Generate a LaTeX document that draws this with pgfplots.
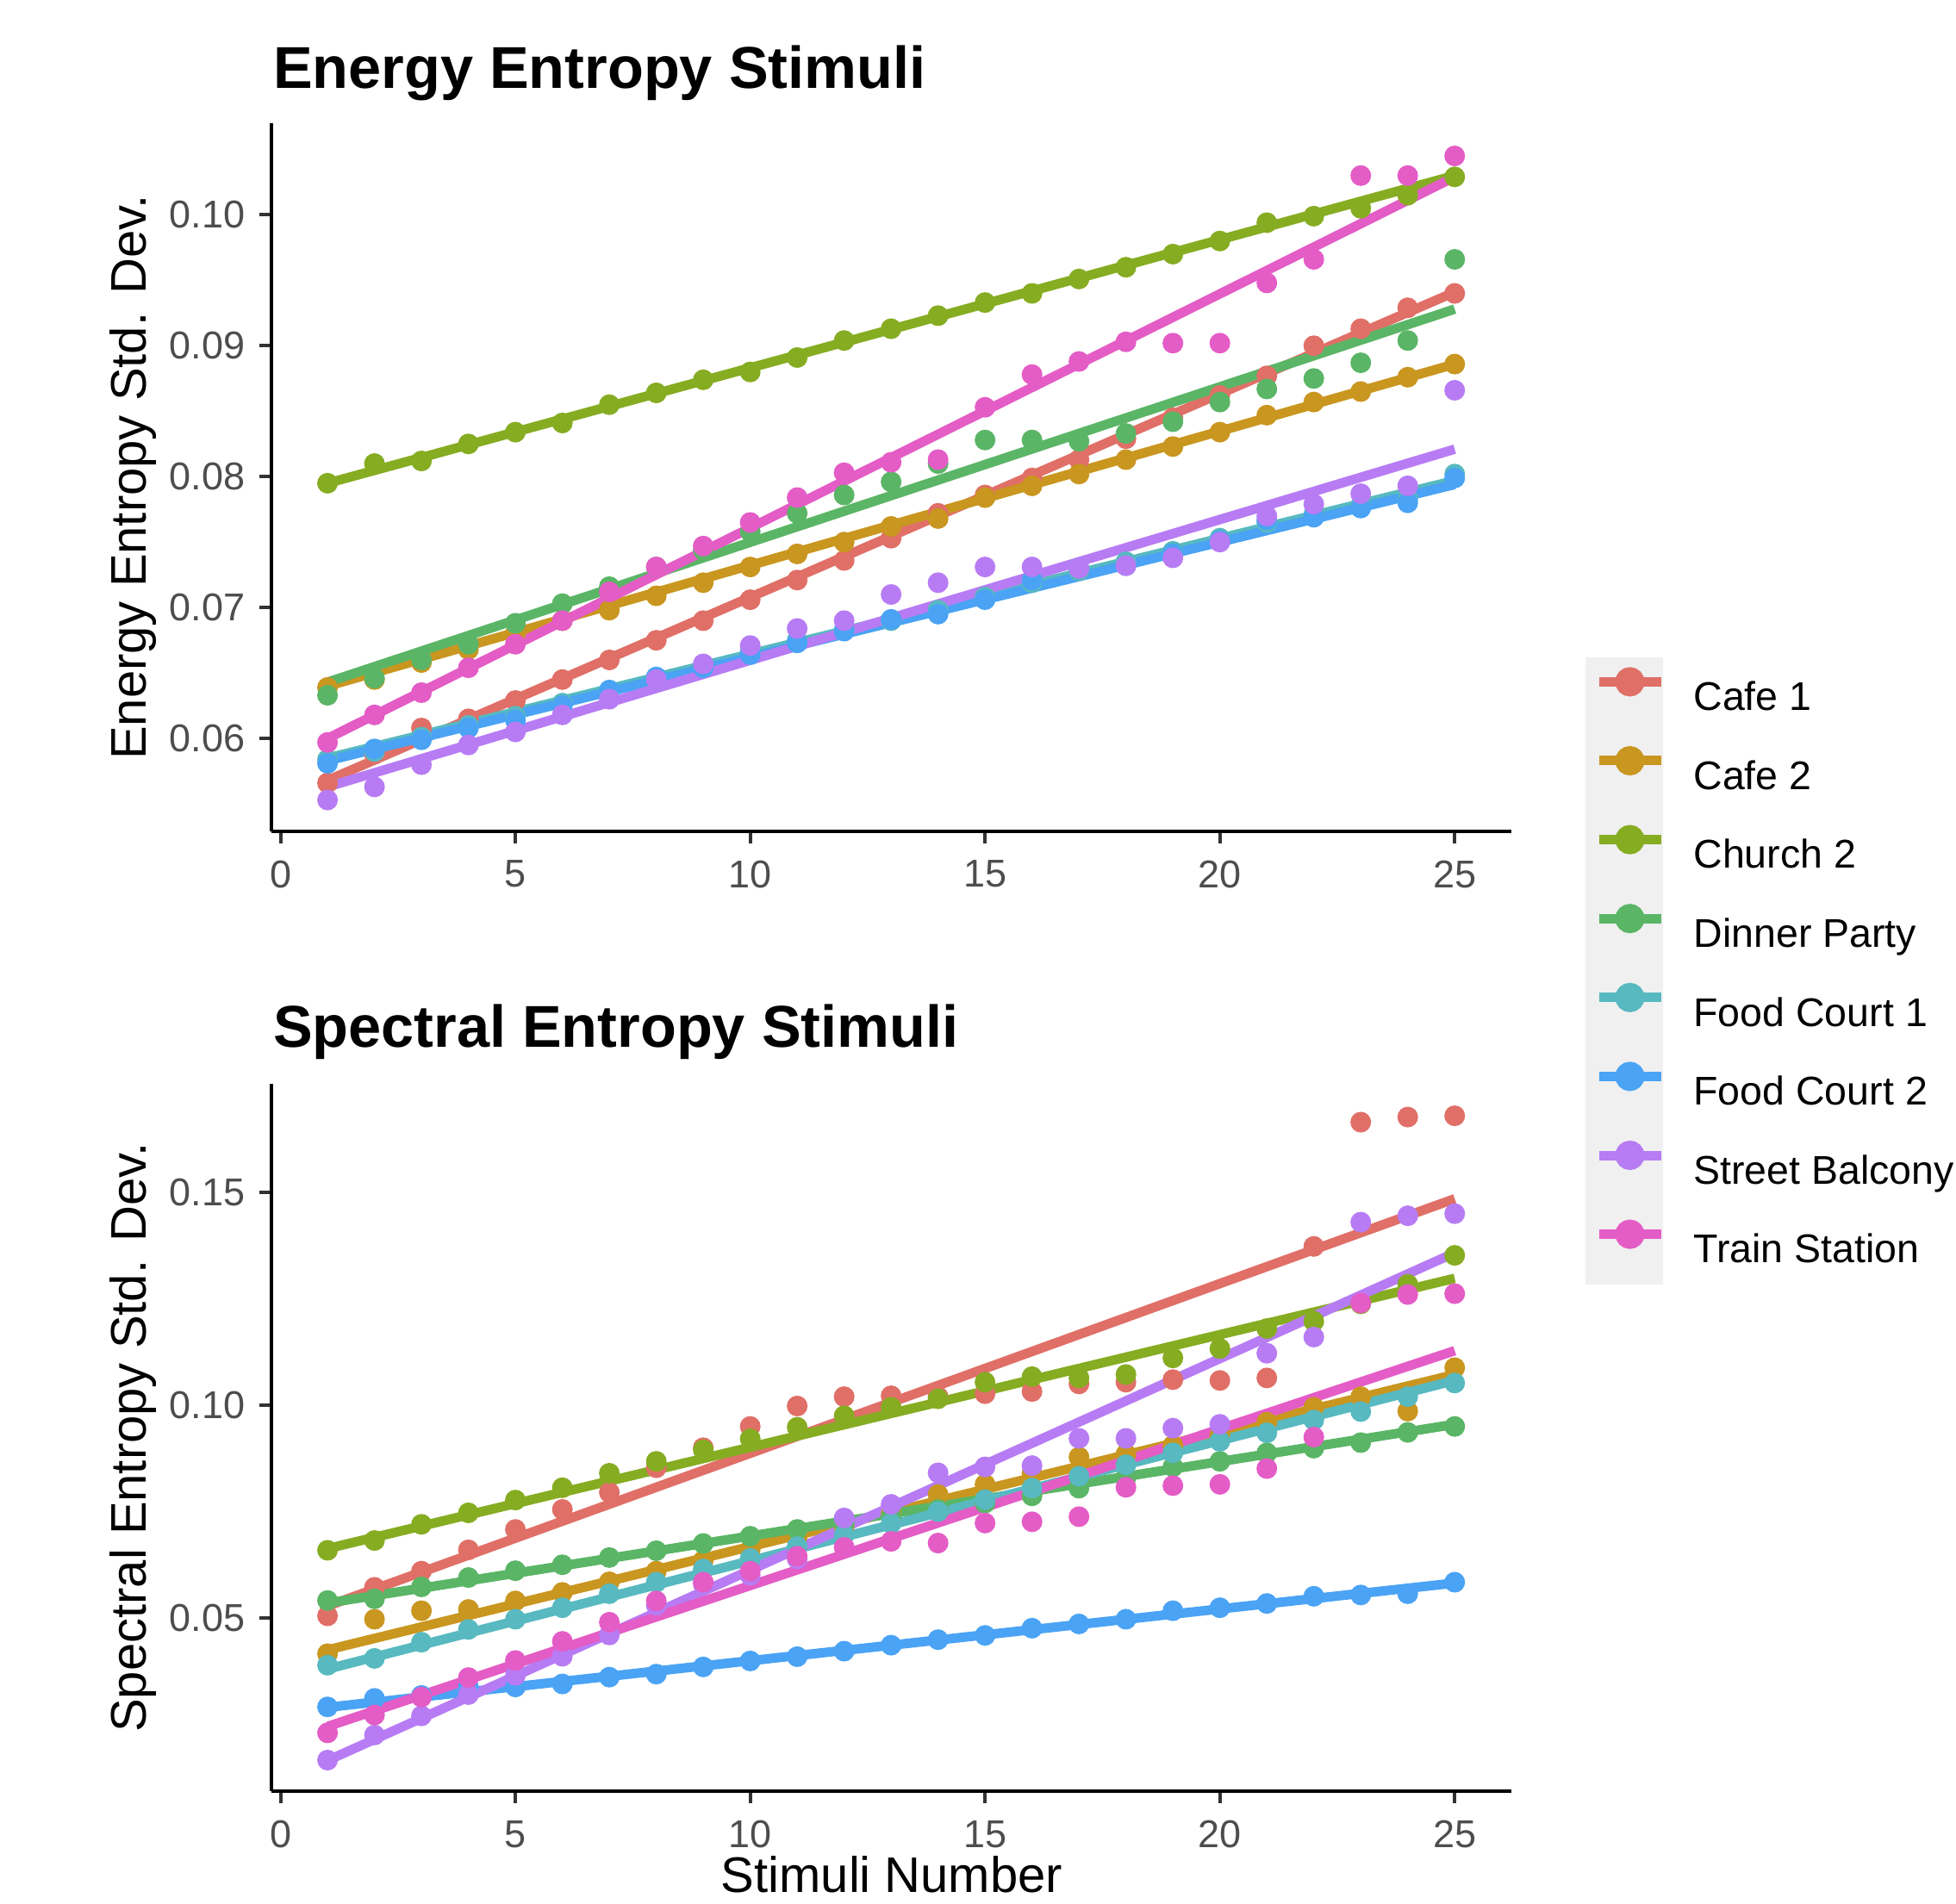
\documentclass[border=0pt]{standalone}
\usepackage{pgfplots}
\usepackage{pgfplotstable}
\pgfplotsset{compat=1.18}
\usepackage{fontspec}
\setmainfont{Liberation Sans}

\definecolor{cafeA}{HTML}{E06F67}
\definecolor{cafeB}{HTML}{C99620}
\definecolor{church}{HTML}{86AC22}
\definecolor{dinner}{HTML}{5BB566}
\definecolor{foodA}{HTML}{58B9C0}
\definecolor{foodB}{HTML}{4AA3F4}
\definecolor{street}{HTML}{B77CF4}
\definecolor{train}{HTML}{E45CC6}
\definecolor{tickgray}{HTML}{4D4D4D}
\definecolor{keybg}{HTML}{F0F0F0}

% energy entropy std. dev. per stimulus
\pgfplotstableread{
x cafeA cafeB church dinner foodA foodB street train
1 0.0566 0.0639 0.0795 0.0633 0.0584 0.0581 0.0553 0.0597
2 0.0588 0.0645 0.0810 0.0646 0.0590 0.0592 0.0563 0.0618
3 0.0608 0.0658 0.0812 0.0660 0.0601 0.0599 0.0580 0.0635
4 0.0615 0.0668 0.0825 0.0672 0.0610 0.0608 0.0595 0.0654
5 0.0629 0.0680 0.0834 0.0688 0.0617 0.0614 0.0605 0.0672
6 0.0645 0.0690 0.0841 0.0703 0.0627 0.0625 0.0618 0.0690
7 0.0660 0.0698 0.0855 0.0716 0.0636 0.0637 0.0630 0.0712
8 0.0675 0.0709 0.0864 0.0731 0.0645 0.0647 0.0645 0.0731
9 0.0690 0.0719 0.0874 0.0744 0.0656 0.0654 0.0657 0.0747
10 0.0706 0.0731 0.0880 0.0758 0.0667 0.0664 0.0671 0.0765
11 0.0721 0.0741 0.0891 0.0772 0.0675 0.0673 0.0684 0.0784
12 0.0736 0.0750 0.0904 0.0786 0.0683 0.0682 0.0690 0.0803
13 0.0753 0.0762 0.0913 0.0796 0.0690 0.0691 0.0710 0.0811
14 0.0772 0.0768 0.0923 0.0810 0.0698 0.0695 0.0719 0.0813
15 0.0786 0.0784 0.0933 0.0828 0.0708 0.0706 0.0731 0.0853
16 0.0799 0.0793 0.0940 0.0828 0.0719 0.0721 0.0731 0.0878
17 0.0813 0.0802 0.0951 0.0827 0.0728 0.0730 0.0730 0.0888
18 0.0829 0.0813 0.0960 0.0833 0.0735 0.0732 0.0732 0.0903
19 0.0845 0.0823 0.0970 0.0842 0.0743 0.0741 0.0738 0.0902
20 0.0862 0.0834 0.0980 0.0857 0.0753 0.0751 0.0750 0.0902
21 0.0877 0.0847 0.0994 0.0867 0.0765 0.0767 0.0770 0.0948
22 0.0900 0.0857 0.0999 0.0875 0.0771 0.0769 0.0779 0.0966
23 0.0913 0.0865 0.1005 0.0887 0.0778 0.0776 0.0787 0.1030
24 0.0929 0.0876 0.1015 0.0904 0.0783 0.0780 0.0793 0.1030
25 0.0940 0.0886 0.1029 0.0966 0.0802 0.0799 0.0866 0.1045
}\energy

% spectral entropy std. dev. per stimulus
\pgfplotstableread{
x cafeA cafeB church dinner foodA foodB street train
1 0.0505 0.0416 0.0659 0.0541 0.0389 0.0291 0.0166 0.0230
2 0.0572 0.0497 0.0682 0.0545 0.0405 0.0311 0.0225 0.0272
3 0.0610 0.0517 0.0720 0.0573 0.0443 0.0318 0.0270 0.0314
4 0.0660 0.0520 0.0747 0.0595 0.0473 0.0338 0.0320 0.0360
5 0.0708 0.0540 0.0777 0.0611 0.0497 0.0338 0.0365 0.0400
6 0.0755 0.0560 0.0806 0.0625 0.0524 0.0345 0.0410 0.0445
7 0.0795 0.0585 0.0840 0.0642 0.0557 0.0361 0.0460 0.0490
8 0.0853 0.0610 0.0868 0.0658 0.0584 0.0368 0.0530 0.0540
9 0.0900 0.0635 0.0895 0.0675 0.0615 0.0385 0.0580 0.0584
10 0.0950 0.0660 0.0921 0.0692 0.0640 0.0399 0.0600 0.0610
11 0.0998 0.0690 0.0948 0.0708 0.0668 0.0409 0.0639 0.0645
12 0.1020 0.0715 0.0975 0.0722 0.0695 0.0422 0.0735 0.0666
13 0.1022 0.0745 0.0995 0.0738 0.0722 0.0436 0.0767 0.0680
14 0.1020 0.0790 0.1015 0.0755 0.0750 0.0449 0.0841 0.0676
15 0.1027 0.0814 0.1054 0.0770 0.0778 0.0459 0.0855 0.0723
16 0.1032 0.0840 0.1067 0.0787 0.0805 0.0476 0.0858 0.0726
17 0.1050 0.0878 0.1064 0.0805 0.0833 0.0486 0.0922 0.0738
18 0.1054 0.0885 0.1072 0.0830 0.0860 0.0497 0.0922 0.0807
19 0.1060 0.0905 0.1111 0.0855 0.0888 0.0517 0.0946 0.0811
20 0.1058 0.0930 0.1133 0.0868 0.0915 0.0524 0.0955 0.0814
21 0.1064 0.0960 0.1180 0.0888 0.0935 0.0534 0.1122 0.0851
22 0.1373 0.0995 0.1197 0.0899 0.0965 0.0551 0.1160 0.0925
23 0.1665 0.1020 0.1238 0.0912 0.0985 0.0554 0.1430 0.1240
24 0.1677 0.0986 0.1284 0.0936 0.1020 0.0557 0.1445 0.1260
25 0.1680 0.1088 0.1352 0.0950 0.1052 0.0584 0.1450 0.1262
}\spectral

% linear fit end points
\pgfplotstableread{
x cafeA cafeB church dinner foodA foodB street train
1 0.0568 0.0640 0.0795 0.0643 0.0585 0.0583 0.0563 0.0600
25 0.0941 0.0886 0.1030 0.0928 0.0797 0.0794 0.0821 0.1029
}\energyfit
\pgfplotstableread{
x cafeA cafeB church dinner foodA foodB street train
1 0.0528 0.0425 0.0663 0.0535 0.0380 0.0290 0.0165 0.0245
25 0.1485 0.1072 0.1298 0.0955 0.1058 0.0582 0.1358 0.1128
}\spectralfit

\pgfplotsset{
  panel/.style={
    scale only axis, width=287.78pt, xmin=-0.2, xmax=26.2,
    axis x line*=bottom, axis y line*=left,
    axis line style={-, line width=0.8pt, black},
    xtick={0,5,...,25}, tick align=outside, major tick length=2.75pt,
    tick style={line width=0.8pt, black!80},
    scaled y ticks=false,
    /pgf/number format/assume math mode=true,
    tick label style={font=\fontsize{9}{9}\selectfont, text=tickgray, inner sep=0pt},
    yticklabel style={/pgf/number format/fixed, /pgf/number format/fixed zerofill,
      /pgf/number format/precision=2, xshift=-3.15pt},
    xticklabel style={yshift=-3.85pt},
  },
  pts/.style={only marks, mark=*, color=#1, mark size=2.2pt, forget plot},
  fit/.style={color=#1, line width=2.2pt},
}

\begin{document}
\begin{tikzpicture}
\path[use as bounding box] (0pt,0pt) rectangle (454pt,-441.8pt);
\fill[keybg] (368pt,-152.6pt) rectangle (386pt,-298.2pt);

\begin{axis}[panel, at={(62.94pt,-193pt)}, anchor=south west, height=164.4pt,
  ymin=0.0529, ymax=0.1070, ytick={0.06,0.07,0.08,0.09,0.10},
  legend cell align=left,
  legend image code/.code={
    \draw[#1] (0pt,3.33pt) -- (14.4pt,3.33pt);
    \fill[#1] (7.2pt,3.33pt) circle (2.3pt);},
  legend style={at={(1.0670,0.2467)}, anchor=north west, draw=none, fill=none,
    inner sep=0pt, outer sep=0pt, row sep=0pt, column sep=6.5pt,
    font=\fontsize{9.3}{9.3}\selectfont,
    nodes={inner sep=0pt, outer sep=0pt, text height=12.49pt, text depth=5.83pt}},
]
\pgfplotsinvokeforeach{cafeA,cafeB,church,dinner,foodA,foodB,street,train}{
  \addplot[pts=#1] table[x=x, y=#1] {\energy};
}
\addplot[fit=cafeA] table[x=x, y=cafeA] {\energyfit};
\addlegendentry{Cafe 1}
\addplot[fit=cafeB] table[x=x, y=cafeB] {\energyfit};
\addlegendentry{Cafe 2}
\addplot[fit=church] table[x=x, y=church] {\energyfit};
\addlegendentry{Church 2}
\addplot[fit=dinner] table[x=x, y=dinner] {\energyfit};
\addlegendentry{Dinner Party}
\addplot[fit=foodA] table[x=x, y=foodA] {\energyfit};
\addlegendentry{Food Court 1}
\addplot[fit=foodB] table[x=x, y=foodB] {\energyfit};
\addlegendentry{Food Court 2}
\addplot[fit=street] table[x=x, y=street] {\energyfit};
\addlegendentry{Street Balcony}
\addplot[fit=train] table[x=x, y=train] {\energyfit};
\addlegendentry{Train Station}
\end{axis}

\begin{axis}[panel, at={(62.94pt,-415.8pt)}, anchor=south west, height=164.2pt,
  ymin=0.0093, ymax=0.1755, ytick={0.05,0.10,0.15}]
\pgfplotsinvokeforeach{cafeA,cafeB,church,dinner,foodA,foodB,street,train}{
  \addplot[pts=#1] table[x=x, y=#1] {\spectral};
}
\pgfplotsinvokeforeach{cafeA,cafeB,church,dinner,foodA,foodB,street,train}{
  \addplot[fit=#1] table[x=x, y=#1] {\spectralfit};
}
\end{axis}

\node[anchor=base west, inner sep=0pt, font=\bfseries\fontsize{13.7}{13.7}\selectfont]
  at (63.2pt,-20.4pt) {Energy Entropy Stimuli};
\node[anchor=base west, inner sep=0pt, font=\bfseries\fontsize{13.7}{13.7}\selectfont]
  at (63.2pt,-243pt) {Spectral Entropy Stimuli};
\node[rotate=90, anchor=base, inner sep=0pt, font=\fontsize{11.6}{11.6}\selectfont]
  at (33.9pt,-110.8pt) {Energy Entropy Std. Dev.};
\node[rotate=90, anchor=base, inner sep=0pt, font=\fontsize{11.6}{11.6}\selectfont]
  at (33.9pt,-333.7pt) {Spectral Entropy Std. Dev.};
\node[anchor=base, inner sep=0pt, font=\fontsize{11.6}{11.6}\selectfont]
  at (207pt,-439.3pt) {Stimuli Number};
\end{tikzpicture}
\end{document}
